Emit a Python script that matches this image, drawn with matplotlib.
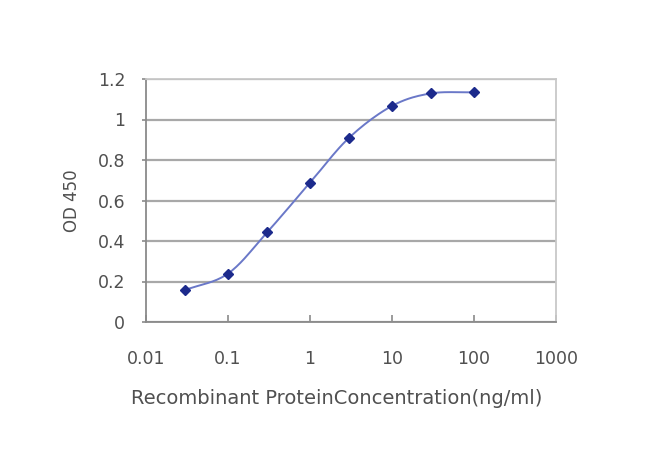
import numpy as np
import matplotlib
matplotlib.use("Agg")
import matplotlib.pyplot as plt

plt.rcParams['font.family'] = ['DejaVu Sans']

conc = [0.03, 0.1, 0.3, 1, 3, 10, 30, 100]
od = [0.158, 0.239, 0.443, 0.688, 0.910, 1.067, 1.129, 1.134]
xticks = [0.01, 0.1, 1, 10, 100, 1000]
xticklabels = ["0.01", "0.1", "1", "10", "100", "1000"]
yticks = [0, 0.2, 0.4, 0.6, 0.8, 1, 1.2]
yticklabels = ["0", "0.2", "0.4", "0.6", "0.8", "1", "1.2"]


def catmull_rom(px, py, n=20):
    px = np.asarray(px, float); py = np.asarray(py, float)
    P = np.column_stack([px, py])
    P = np.vstack([2 * P[0] - P[1], P, 2 * P[-1] - P[-2]])
    out = []
    for i in range(1, len(P) - 2):
        p0, p1, p2, p3 = P[i - 1], P[i], P[i + 1], P[i + 2]
        t = np.linspace(0, 1, n)[:, None]
        seg = 0.5 * ((2 * p1) + (-p0 + p2) * t + (2 * p0 - 5 * p1 + 4 * p2 - p3) * t ** 2
                     + (-p0 + 3 * p1 - 3 * p2 + p3) * t ** 3)
        out.append(seg)
    out = np.vstack(out)
    return out[:, 0], out[:, 1]


fig = plt.figure(figsize=(6.5, 4.66), dpi=100)
ax = fig.add_axes([146 / 650, 1 - 322 / 466, (556 - 146) / 650, (322 - 79) / 466])
ax.set_xscale('log')
ax.set_xlim(0.01, 1000)
ax.set_ylim(0, 1.2)

lx, ly = catmull_rom(np.log10(conc), od)
ax.plot(10 ** lx, ly, color='#6a78c8', lw=1.4, zorder=3)
ax.plot(conc, od, linestyle='none', marker='D', markersize=5, color='#1c2a8c', zorder=4)

ax.set_yticks(yticks)
ax.set_yticklabels(yticklabels)
ax.set_xticks(xticks)
ax.set_xticklabels(xticklabels)
ax.minorticks_off()
ax.grid(axis='y', color='#a8a8a8', lw=1.6)
ax.set_axisbelow(True)

for s in ['left', 'bottom']:
    ax.spines[s].set_color('#8a8a8a')
    ax.spines[s].set_linewidth(1.3)
for s in ['right', 'top']:
    ax.spines[s].set_color('#c8c8c8')
    ax.spines[s].set_linewidth(1.3)

ax.tick_params(axis='x', direction='in', length=5, width=1.2, color='#8a8a8a',
               labelsize=12.5, labelcolor='#505050', pad=20)
ax.tick_params(axis='y', direction='out', length=3, width=1.2, color='#8a8a8a',
               labelsize=12.5, labelcolor='#505050', pad=12)

ax.set_ylabel('OD 450', fontsize=12, color='#505050', labelpad=12)
fig.text(337 / 650, 1 - 398 / 466, 'Recombinant ProteinConcentration(ng/ml)',
         ha='center', va='center', fontsize=14, color='#505050')

fig.savefig('out.png', dpi=100)
